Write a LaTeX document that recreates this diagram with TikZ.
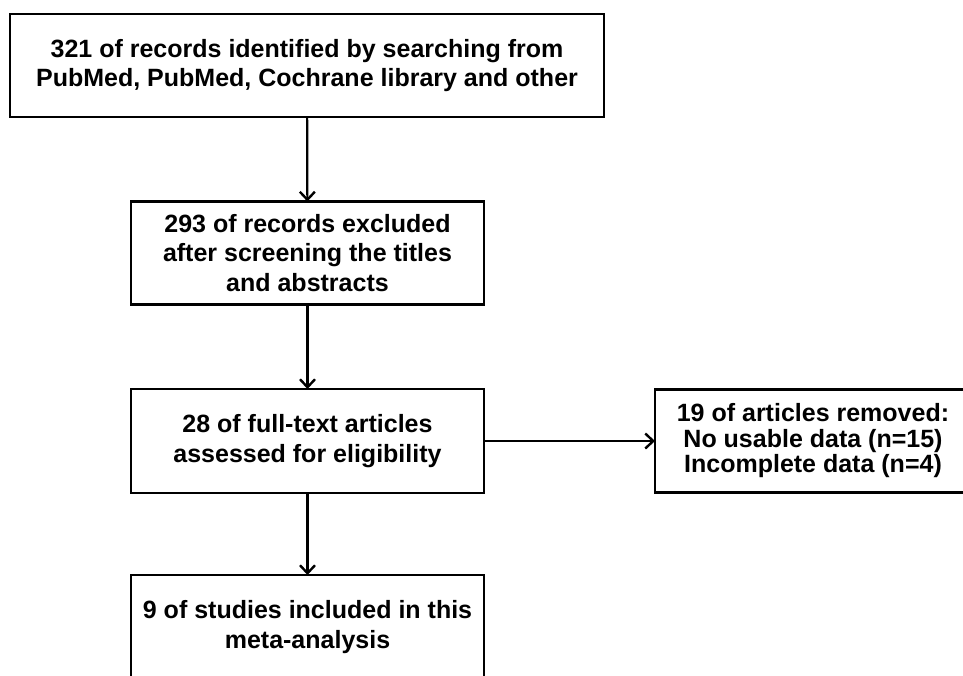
\documentclass[tikz,border=0pt]{standalone}
\usepackage{fontspec}
\setmainfont{Liberation Sans}
\usepackage{tikz}
\usetikzlibrary{positioning,arrows.meta,calc}
\tikzstyle{signal}=[arrows={-Straight Barb[length=8pt,width=15pt,line width=2.4pt]},draw=black,line width=2.2pt]
\tikzstyle{block}=[draw=black,line width=2.6pt,fill=white]
\def\boxwidth{353pt}
\def\boxheight{103pt}
\tikzstyle{stage}=[style=block, inner sep=0pt, outer sep=0pt,
    text centered, align=center,
    font=\fontsize{25}{29.5}\selectfont\bfseries,
    minimum width=\boxwidth, minimum height=\boxheight]
\tikzstyle{exclusion}=[style=stage, minimum width=316pt,
    font=\fontsize{25}{25.5}\selectfont\bfseries]

\begin{document}
\begin{tikzpicture}[x=1pt,y=-1pt]

    \def\stagedist{188}

    \useasboundingbox (0,0) rectangle (963,675);

    % records found
    \node[stage, minimum width=594pt] (records) at (307,65.5)
        {321 of records identified by searching from\\PubMed, PubMed, Cochrane library and other};

    % screening
    \node[stage] (screened) at (307.5,253)
        {293 of records excluded\\after screening the titles\\and abstracts};

    % eligibility
    \node[stage, minimum height=104pt] (fulltext) at ($(screened) + (0,\stagedist)$)
        {28 of full-text articles\\assessed for eligibility};

    % removed articles
    \node[exclusion] (removed) at (813,441)
        {19 of articles removed:\\No usable data (n=15)\\Incomplete data (n=4)};

    % included studies
    \node[stage, minimum height=104pt] (included) at (307.5,627)
        {9 of studies included in this\\meta-analysis};

    % arrows
    \draw[signal] (records) -- (screened);
    \draw[signal] (screened) -- (fulltext);
    \draw[signal] (fulltext) -- (removed);
    \draw[signal] (fulltext) -- (included);

\end{tikzpicture}
\end{document}
